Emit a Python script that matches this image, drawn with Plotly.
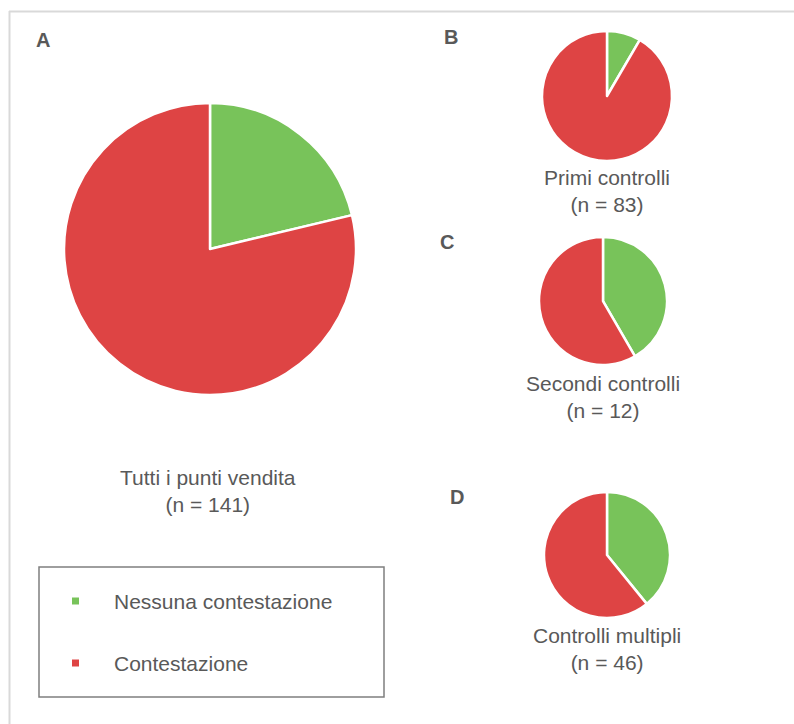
import plotly.graph_objects as go

W, H = 794, 724

categories = ["Nessuna contestazione", "Contestazione"]
colors = ["#78C35A", "#DE4444"]

panel_letters = ["A", "B", "C", "D"]
panel_titles = ["Tutti i punti vendita", "Primi controlli", "Secondi controlli", "Controlli multipli"]
panel_n = [141, 83, 12, 46]
values_no_dispute = [30, 7, 5, 18]
values_dispute = [111, 76, 7, 28]

# layout (pixels): pie center x, center y, radius
pie_geom = [(210, 249, 146), (607, 96, 65), (603, 301, 64), (607, 555, 63)]
letter_pos = [(43, 40), (451, 37), (447, 242), (457, 497)]
title_pos = [(208, 491), (607, 190.5), (603, 396.5), (607, 648.5)]

def px(x):
    return x / W

def py(y):
    return 1 - y / H

fig = go.Figure()
for i in range(4):
    cx, cy, r = pie_geom[i]
    fig.add_trace(go.Pie(
        labels=categories,
        values=[values_no_dispute[i], values_dispute[i]],
        marker=dict(colors=colors, line=dict(color="white", width=2.5)),
        sort=False, direction="clockwise", rotation=0,
        textinfo="none", hoverinfo="label+value+percent",
        showlegend=False,
        domain=dict(x=[px(cx - r), px(cx + r)], y=[py(cy + r), py(cy - r)]),
    ))

annotations = []
font_family = "Liberation Sans, Arial, sans-serif"
for i in range(4):
    lx, ly = letter_pos[i]
    annotations.append(dict(text="<b>%s</b>" % panel_letters[i], x=px(lx), y=py(ly),
                            xref="paper", yref="paper", showarrow=False,
                            xanchor="center", yanchor="middle",
                            font=dict(family=font_family, size=20, color="#595959")))
    tx, ty = title_pos[i]
    annotations.append(dict(text="%s<br>(n = %d)" % (panel_titles[i], panel_n[i]),
                            x=px(tx), y=py(ty), xref="paper", yref="paper",
                            showarrow=False, xanchor="center", yanchor="middle",
                            align="center",
                            font=dict(family=font_family, size=21, color="#595959")))

shapes = [
    dict(type="line", xref="paper", yref="paper", x0=px(9), x1=1, y0=py(11.5), y1=py(11.5),
         line=dict(color="#D9D9D9", width=2)),
    dict(type="line", xref="paper", yref="paper", x0=px(9.5), x1=px(9.5), y0=py(11), y1=0,
         line=dict(color="#D9D9D9", width=2)),
    dict(type="rect", xref="paper", yref="paper", x0=px(39), x1=px(384), y0=py(697), y1=py(567),
         line=dict(color="#7F7F7F", width=1.5)),
]

legend_y = [601, 663]
for j, cat in enumerate(categories):
    yy = legend_y[j]
    shapes.append(dict(type="rect", xref="paper", yref="paper",
                       x0=px(72), x1=px(79), y0=py(yy + 3.5), y1=py(yy - 3.5),
                       fillcolor=colors[j], line=dict(width=0)))
    annotations.append(dict(text=cat, x=px(112), y=py(yy), xref="paper", yref="paper",
                            showarrow=False, xanchor="left", yanchor="middle",
                            font=dict(family=font_family, size=21, color="#595959")))

fig.update_layout(
    width=W, height=H,
    margin=dict(l=0, r=0, t=0, b=0),
    paper_bgcolor="white", plot_bgcolor="white",
    annotations=annotations, shapes=shapes,
    showlegend=False,
)

fig.write_html("out.html")
